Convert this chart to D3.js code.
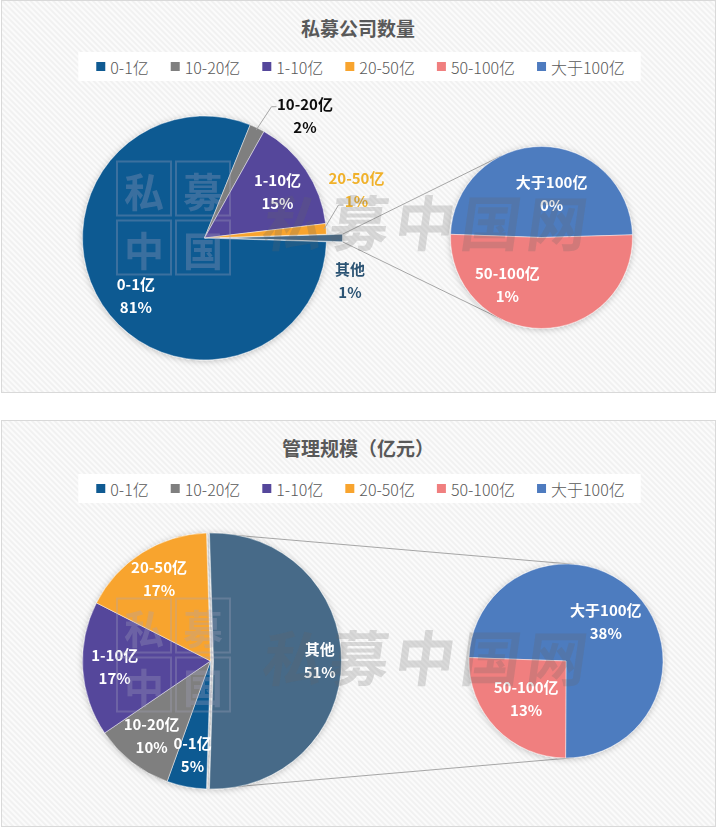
<!DOCTYPE html>
<html>
<head>
<meta charset="utf-8">
<script src="https://cdn.jsdelivr.net/npm/d3@7"></script>
<style>
  body { margin: 0; background: #fff; }
  svg { display: block; }
  text { font-family: "Noto Sans CJK SC", "Microsoft YaHei", sans-serif; }
</style>
</head>
<body>
<svg width="717" height="828"></svg>
<script>
// ---- data ----
var categories = ["0-1亿", "10-20亿", "1-10亿", "20-50亿", "50-100亿", "大于100亿"];
var colors = ["#0f5a92", "#7f7f7f", "#55479b", "#f8a42e", "#f07f7f", "#4e7bbf"];
var companyShare = [80.6, 2, 15, 1.4, 0.5, 0.48];   // 私募公司数量 (%)
var scaleShare = [5, 10, 17, 17, 13, 38];           // 管理规模 (%)
var titles = ["私募公司数量", "管理规模（亿元）"];
var otherName = "其他";
var otherColor = "#476b88";
var splitCount = 2;   // last two categories go to the second pie
var watermark = ["私", "募", "中", "国", "网"];
var stampChars = ["私", "募", "中", "国"];

var svg = d3.select("svg");
var defs = svg.append("defs");

var pat = defs.append("pattern")
    .attr("id", "hatch")
    .attr("width", 4).attr("height", 4)
    .attr("patternUnits", "userSpaceOnUse")
    .attr("patternTransform", "rotate(-45)");
pat.append("rect").attr("width", 4).attr("height", 4).attr("fill", "#fbfbfb");
pat.append("line").attr("x1", 1).attr("y1", 0).attr("x2", 1).attr("y2", 4)
    .attr("stroke", "#efefef").attr("stroke-width", 1.6);

var shadow = defs.append("filter").attr("id", "shadow")
    .attr("x", "-20%").attr("y", "-20%").attr("width", "140%").attr("height", "140%");
shadow.append("feDropShadow").attr("dx", 0).attr("dy", 1).attr("stdDeviation", 3)
    .attr("flood-color", "#000").attr("flood-opacity", 0.22);

// layout for each panel (not data)
var panels = [
  {
    title: titles[0], values: companyShare,
    y: 0.5, h: 392, titleY: 27, legendY: 66.5,
    main: {cx: 204.5, cy: 238, r: 122, explode: 16},
    sub: {cx: 541.5, cy: 237.5, r: 91},
    wmY: 220, stampY: 161.5,
    labels: {
      "0-1亿": {k: 0.74, dx: 7, dy: 9},
      "10-20亿": {at: [100.5, -121.3], color: "#0d0d0d", leader: [[67, -131.3], [72, -131.3]]},
      "1-10亿": {k: 0.74, dx: -2, dy: 5},
      "20-50亿": {at: [152, -48], color: "#f0b12a", leader: [[134, -33], [139, -33]]},
      "其他": {at: [145.5, 43.3], color: "#2b5373"},
      "50-100亿": {k: 0.57, dx: -34, dy: -4},
      "大于100亿": {k: 0.57, dx: 10, dy: 9}
    }
  },
  {
    title: titles[1], values: scaleShare,
    y: 420.5, h: 406, titleY: 447, legendY: 488.5,
    main: {cx: 210.5, cy: 661, r: 128, explode: 3},
    sub: {cx: 566, cy: 661, r: 97},
    wmY: 655, stampY: 598.5,
    labels: {
      "0-1亿": {k: 0.75}, "10-20亿": {k: 0.75}, "1-10亿": {k: 0.75}, "20-50亿": {k: 0.75},
      "其他": {k: 0.83},
      "50-100亿": {k: 0.57}, "大于100亿": {k: 0.57}
    }
  }
];

function polar(cx, cy, r, a) {
  return [cx + r * Math.sin(a), cy - r * Math.cos(a)];
}

function tangent(p, c, R, side) {
  var dx = c[0] - p[0], dy = c[1] - p[1];
  var d = Math.sqrt(dx * dx + dy * dy);
  var th = Math.atan2(dy, dx), al = Math.asin(R / d) * side;
  var L = Math.sqrt(d * d - R * R);
  return [p[0] + L * Math.cos(th + al), p[1] + L * Math.sin(th + al)];
}

function drawLabel(g, x, y, name, pct, color) {
  var t = g.append("text")
      .attr("text-anchor", "middle")
      .attr("font-size", 15)
      .attr("font-weight", "bold")
      .attr("fill", color);
  t.append("tspan").attr("x", x).attr("y", y - 6.5).text(name);
  t.append("tspan").attr("x", x).attr("y", y + 16.5).text(pct);
}

panels.forEach(function(p) {
  var g = svg.append("g");

  g.append("rect")
      .attr("x", 1.5).attr("y", p.y).attr("width", 714).attr("height", p.h)
      .attr("fill", "url(#hatch)").attr("stroke", "#d9d9d9");

  g.append("text")
      .attr("x", 358).attr("y", p.titleY)
      .attr("text-anchor", "middle").attr("dominant-baseline", "central")
      .attr("font-size", 19).attr("font-weight", "bold").attr("fill", "#595959")
      .text(p.title);

  // legend
  var lg = g.append("g");
  var bg = lg.append("rect").attr("fill", "#fff");
  var items = lg.selectAll("g.item").data(categories).enter().append("g").attr("class", "item");
  items.append("rect").attr("width", 9).attr("height", 9).attr("y", -4.5)
      .attr("fill", function(d, i) { return colors[i]; });
  items.append("text").attr("x", 14).attr("dominant-baseline", "central")
      .attr("font-size", 16).attr("font-weight", 300).attr("fill", "#595959")
      .text(function(d) { return d; });
  var xs = 0, offs = [];
  items.each(function() {
    offs.push(xs);
    xs += 14 + d3.select(this).select("text").node().getComputedTextLength() + 22;
  });
  var total = xs - 22, x0 = 360.5 - total / 2;
  items.attr("transform", function(d, i) { return "translate(" + (x0 + offs[i]) + "," + p.legendY + ")"; });
  bg.attr("x", x0 - 18).attr("y", p.legendY - 14.5).attr("width", total + 34).attr("height", 29);

  // data split
  var sum = d3.sum(p.values);
  var n = categories.length - splitCount;
  var otherVal = d3.sum(p.values.slice(n));
  var mainData = [{name: otherName, v: otherVal, color: otherColor}];
  for (var i = 0; i < n; i++) mainData.push({name: categories[i], v: p.values[i], color: colors[i]});
  var subData = [];
  for (var j = categories.length - 1; j >= n; j--) subData.push({name: categories[j], v: p.values[j], color: colors[j]});

  var start = Math.PI / 2 - Math.PI * otherVal / sum;
  var mainArcs = d3.pie().sort(null).value(function(d) { return d.v; })
      .startAngle(start).endAngle(start + 2 * Math.PI)(mainData);
  var subStart = -88 * Math.PI / 180;
  var subArcs = d3.pie().sort(null).value(function(d) { return d.v; })
      .startAngle(subStart).endAngle(subStart + 2 * Math.PI)(subData);

  var m = p.main, s = p.sub;
  var oa = mainArcs[0];
  var omid = (oa.startAngle + oa.endAngle) / 2;
  var oc = polar(m.cx, m.cy, m.explode, omid);

  // connector lines
  var c1 = polar(oc[0], oc[1], m.r, oa.startAngle);
  var c2 = polar(oc[0], oc[1], m.r, oa.endAngle);
  var t1 = tangent(c1, [s.cx, s.cy], s.r, -1);
  var t2 = tangent(c2, [s.cx, s.cy], s.r, 1);
  [[c1, t1], [c2, t2]].forEach(function(l) {
    g.append("line")
        .attr("x1", l[0][0]).attr("y1", l[0][1]).attr("x2", l[1][0]).attr("y2", l[1][1])
        .attr("stroke", "#a6a6a6").attr("stroke-width", 1);
  });

  var arcMain = d3.arc().innerRadius(0).outerRadius(m.r);
  var arcSub = d3.arc().innerRadius(0).outerRadius(s.r);

  var pies = g.append("g").attr("filter", "url(#shadow)");
  pies.selectAll("path.main").data(mainArcs).enter().append("path")
      .attr("class", "main")
      .attr("transform", function(d, i) {
        var c = i === 0 ? oc : [m.cx, m.cy];
        return "translate(" + c[0] + "," + c[1] + ")";
      })
      .attr("d", arcMain)
      .attr("fill", function(d) { return d.data.color; })
      .attr("stroke", "#fff").attr("stroke-width", 0.75).attr("stroke-opacity", 0.6);
  pies.selectAll("path.sub").data(subArcs).enter().append("path")
      .attr("class", "sub")
      .attr("transform", "translate(" + s.cx + "," + s.cy + ")")
      .attr("d", arcSub)
      .attr("fill", function(d) { return d.data.color; })
      .attr("stroke", "#fff").attr("stroke-width", 0.75).attr("stroke-opacity", 0.6);

  // labels
  var lab = g.append("g");
  function pct(v) { return Math.round(v / sum * 100) + "%"; }
  mainArcs.forEach(function(a, i) {
    var spec = p.labels[a.data.name];
    var c = i === 0 ? oc : [m.cx, m.cy];
    var mid = (a.startAngle + a.endAngle) / 2;
    if (spec.at) {
      if (spec.leader) {
        var st = polar(m.cx, m.cy, m.r - 2, mid);
        var pts = [st].concat(spec.leader.map(function(q) { return [m.cx + q[0], m.cy + q[1]]; }));
        lab.append("path").attr("d", d3.line()(pts))
            .attr("fill", "none").attr("stroke", "#a6a6a6").attr("stroke-width", 1);
      }
      drawLabel(lab, m.cx + spec.at[0], m.cy + spec.at[1], a.data.name, pct(a.data.v), spec.color);
    } else {
      var q = polar(c[0], c[1], m.r * spec.k, mid);
      drawLabel(lab, q[0] + (spec.dx || 0), q[1] + (spec.dy || 0), a.data.name, pct(a.data.v), "#fff");
    }
  });
  subArcs.forEach(function(a) {
    var spec = p.labels[a.data.name];
    var mid = (a.startAngle + a.endAngle) / 2;
    var q = polar(s.cx, s.cy, s.r * spec.k, mid);
    drawLabel(lab, q[0] + (spec.dx || 0), q[1] + (spec.dy || 0), a.data.name, pct(a.data.v), "#fff");
  });

  // stamp watermark
  var st = g.append("g").attr("transform", "translate(117," + p.stampY + ")");
  stampChars.forEach(function(ch, k) {
    var sx = (k % 2) * 59, sy = Math.floor(k / 2) * 59;
    st.append("rect").attr("x", sx).attr("y", sy).attr("width", 54).attr("height", 54)
        .attr("fill", "none").attr("stroke", "#a4a4bc").attr("stroke-width", 2).attr("opacity", 0.3);
    st.append("text").attr("x", sx + 27).attr("y", sy + 28)
        .attr("text-anchor", "middle").attr("dominant-baseline", "central")
        .attr("font-size", 40).attr("font-weight", "bold")
        .attr("fill", "#a4a4bc").attr("opacity", 0.3)
        .text(ch);
  });

  // text watermark
  var wm = g.append("g");
  watermark.forEach(function(ch, k) {
    wm.append("text")
        .attr("transform", "translate(" + (294 + k * 66) + "," + p.wmY + ") skewX(-8)")
        .attr("text-anchor", "middle").attr("dominant-baseline", "central")
        .attr("font-size", 60).attr("font-weight", "bold")
        .attr("fill", "#666").attr("opacity", 0.22)
        .text(ch);
  });
});
</script>
</body>
</html>
